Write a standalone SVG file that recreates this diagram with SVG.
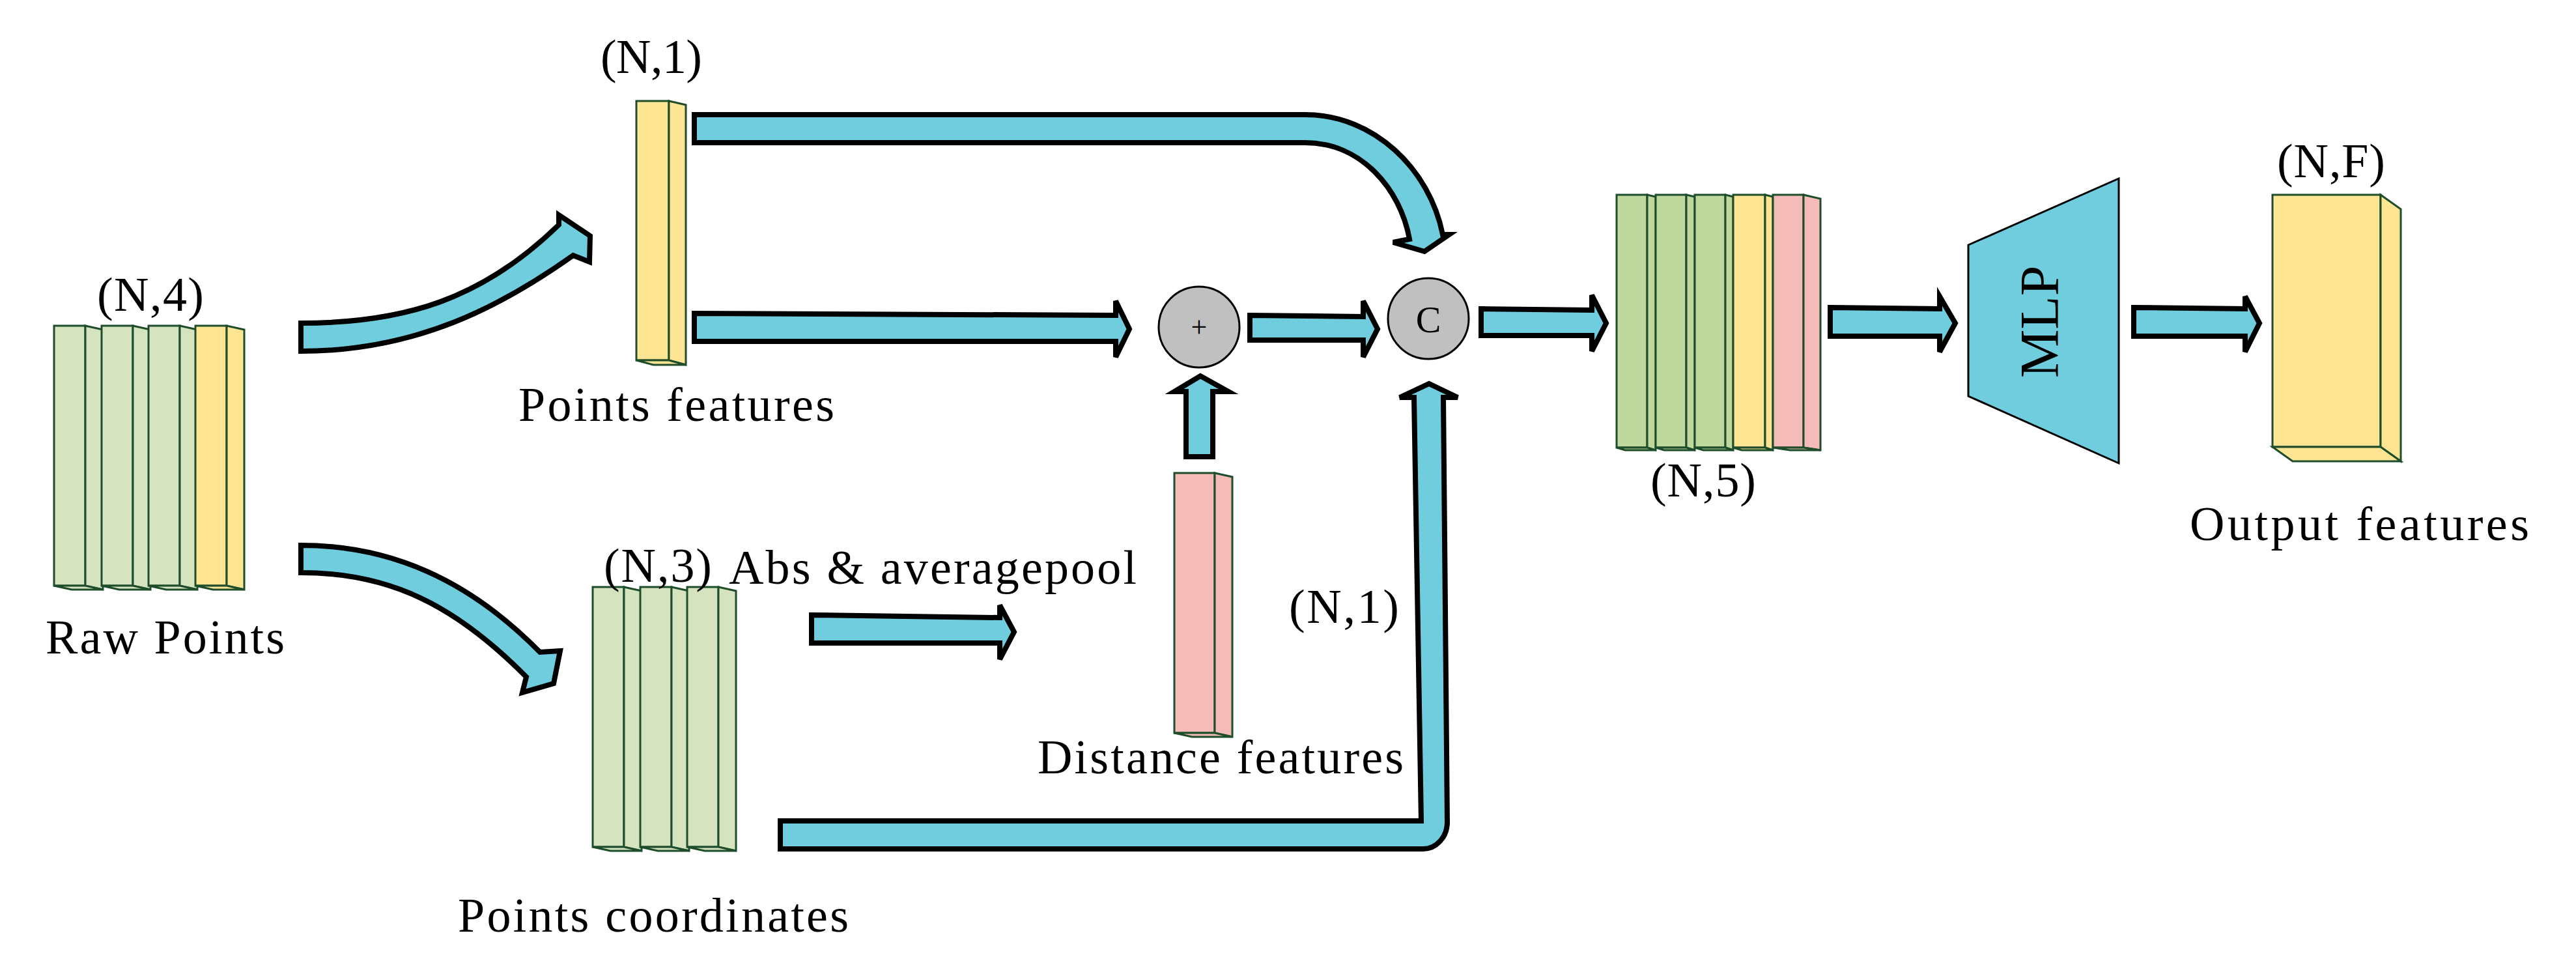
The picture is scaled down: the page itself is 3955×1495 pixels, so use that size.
<svg xmlns="http://www.w3.org/2000/svg" width="3955" height="1495" viewBox="0 0 3955 1495">
<style>
.t{font-family:"Liberation Serif","DejaVu Serif",serif;font-size:74px;fill:#000}
.ar{fill:#70cddd;stroke:#000;stroke-width:8;stroke-linejoin:miter}
.g1{fill:#d5e4be;stroke:#1e4d2b;stroke-width:3}
.g2{fill:#bfd89e;stroke:#1e4d2b;stroke-width:3}
.y{fill:#fee594;stroke:#1e4d2b;stroke-width:3}
.p{fill:#f4bbb8;stroke:#1e4d2b;stroke-width:3}
.c{fill:#c0c0c0;stroke:#000;stroke-width:3}
</style>
<defs>
<g id="colY"><rect class="y" x="0" y="0" width="48" height="399"/><polygon class="y" points="48,0 75,6 75,405 48,399"/><polygon class="y" points="0,399 48,399 75,405 27,405"/></g>
<g id="colG"><rect class="g1" x="0" y="0" width="48" height="399"/><polygon class="g1" points="48,0 75,6 75,405 48,399"/><polygon class="g1" points="0,399 48,399 75,405 27,405"/></g>
</defs>

<g id="raw-points">
<use href="#colG" x="83" y="500"/><use href="#colG" x="156" y="500"/><use href="#colG" x="228" y="500"/><use href="#colY" x="300" y="500"/>
<text class="t" x="149" y="477" textLength="164">(N,4)</text>
<text class="t" x="70" y="1003" textLength="367">Raw Points</text>
</g>

<g id="points-features">
<rect class="y" x="977" y="155" width="50" height="398"/><polygon class="y" points="1027,155 1053,161 1053,560 1027,553"/><polygon class="y" points="977,553 1027,553 1053,560 1003,560"/>
<text class="t" x="922" y="112" textLength="156">(N,1)</text>
<text class="t" x="796" y="646" textLength="485">Points features</text>
</g>

<g id="points-coordinates">
<use href="#colG" x="910" y="901"/><use href="#colG" x="983" y="901"/><use href="#colG" x="1055" y="901"/>
<text class="t" x="927" y="893" textLength="166">(N,3)</text>
<text class="t" x="703" y="1430" textLength="600">Points coordinates</text>
</g>

<g id="abs-label"><text class="t" x="1119" y="896" textLength="626">Abs &amp; averagepool</text></g>

<g id="distance-features">
<rect class="p" x="1803" y="726" width="62" height="399"/><polygon class="p" points="1865,726 1892,732 1892,1131 1865,1125"/><polygon class="p" points="1803,1125 1865,1125 1892,1131 1830,1131"/>
<text class="t" x="1593" y="1187" textLength="562">Distance features</text>
<text class="t" x="1979" y="956" textLength="169">(N,1)</text>
</g>

<g id="plus"><circle class="c" cx="1841" cy="502" r="62"/><text x="1841" y="517" text-anchor="middle" style="font-family:'Liberation Serif',serif;font-size:44px">+</text></g>
<g id="concat"><circle class="c" cx="2193" cy="489" r="62"/><text x="2193" y="510" text-anchor="middle" style="font-family:'Liberation Serif',serif;font-size:58px">C</text></g>

<g id="concat-stack">
<rect class="g2" x="2482" y="299" width="47" height="388"/><polygon class="g2" points="2529,299 2542,302 2542,691 2529,687"/><polygon class="g2" points="2482,687 2529,687 2542,691 2495,691"/>
<rect class="g2" x="2542" y="299" width="47" height="388"/><polygon class="g2" points="2589,299 2602,302 2602,691 2589,687"/><polygon class="g2" points="2542,687 2589,687 2602,691 2555,691"/>
<rect class="g2" x="2602" y="299" width="47" height="388"/><polygon class="g2" points="2649,299 2661,302 2661,691 2649,687"/><polygon class="g2" points="2602,687 2649,687 2661,691 2615,691"/>
<rect class="y" x="2661" y="299" width="49" height="388"/><polygon class="y" points="2710,299 2722,302 2722,691 2710,687"/><polygon class="y" points="2661,687 2710,687 2722,691 2674,691"/>
<rect class="p" x="2722" y="299" width="47" height="388"/><polygon class="p" points="2769,299 2795,305 2795,691 2769,687"/><polygon class="p" points="2722,687 2769,687 2795,691 2748,691"/>
<text class="t" x="2534" y="762" textLength="162">(N,5)</text>
</g>

<g id="mlp">
<polygon points="3022,376 3253,274 3253,711 3022,608" fill="#70cddd" stroke="#000" stroke-width="3"/>
<text class="t" transform="translate(3160,494) rotate(-90)" text-anchor="middle" style="font-size:84px">MLP</text>
</g>

<g id="output-features">
<rect class="y" x="3489" y="299" width="166" height="387"/><polygon class="y" points="3655,299 3686,321 3686,708 3655,686"/><polygon class="y" points="3489,686 3655,686 3686,708 3520,708"/>
<text class="t" x="3496" y="272" textLength="166">(N,F)</text>
<text class="t" x="3362" y="829" textLength="521">Output features</text>
</g>

<g id="connectors">
<path class="ar" d="M462,496 C620,496 740,460 858,345 L858,330 L906,362 L905,402 L880,392 C770,470 640,539 462,539 Z"/>
<path class="ar" d="M462,837 C600,837 720,890 829,1001 L860,999 L850,1049 L802,1063 L808,1039 C700,930 600,879 462,879 Z"/>
<path class="ar" d="M1066,176 L2004,176 C2110,176 2195,260 2215,360 L2225,360 L2187,386 L2139,372 L2164,367 C2150,290 2090,219 2004,219 L1066,219 Z"/>
<path class="ar" d="M1066,481 L1713,484 L1713,462 L1734,505 L1713,548 L1713,524 L1066,524 Z"/>
<path class="ar" d="M1919,484 L2093,486 L2093,462 L2115,505 L2093,548 L2093,522 L1919,522 Z"/>
<path class="ar" d="M2274,474 L2444,476 L2444,453 L2466,496 L2444,539 L2444,515 L2274,515 Z"/>
<path class="ar" d="M1821,701 L1821,601 L1803,601 L1843,577 L1886,601 L1862,601 L1862,701 Z"/>
<path class="ar" d="M1246,944 L1535,948 L1535,929 L1557,970 L1535,1012 L1535,987 L1246,987 Z"/>
<path class="ar" d="M1198,1260 L2182,1260 L2171,610 L2149,610 L2194,589 L2238,610 L2216,610 L2222,1262 C2222,1285 2205,1303 2185,1303 L1198,1303 Z"/>
<path class="ar" d="M2810,472 L2978,474 L2978,455 L3002,496 L2978,540 L2978,516 L2810,516 Z"/>
<path class="ar" d="M3276,472 L3447,474 L3447,455 L3469,496 L3447,540 L3447,516 L3276,516 Z"/>
</g>
</svg>
